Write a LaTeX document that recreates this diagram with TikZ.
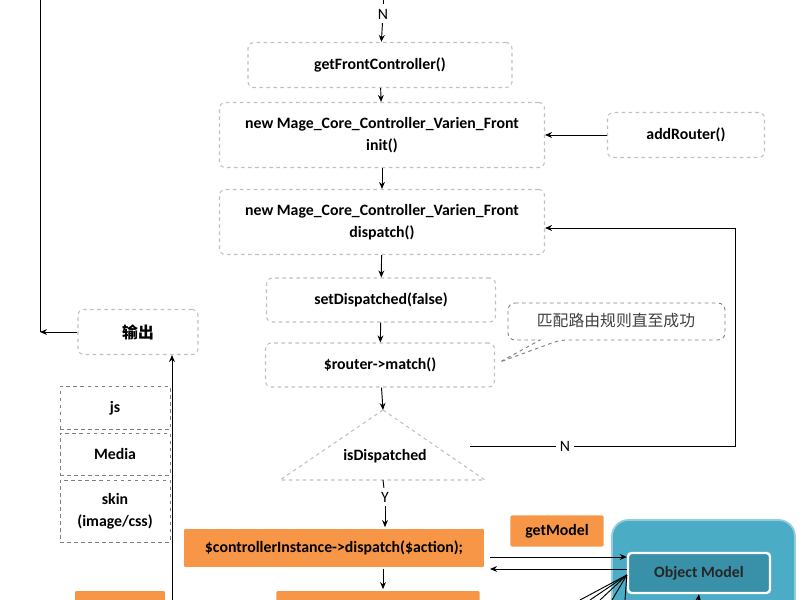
\documentclass[tikz,border=0pt]{standalone}
\usepackage{fontspec}
\setmainfont{Carlito}
\newfontfamily\cjk{Noto Sans CJK SC}
\usetikzlibrary{arrows.meta}
\definecolor{dsh}{RGB}{200,190,180}
\definecolor{org}{RGB}{247,150,70}
\definecolor{blu}{RGB}{75,172,198}
\definecolor{blud}{RGB}{49,133,156}
\newcommand\fz{\fontsize{13.5}{19}\selectfont}
\begin{document}
\begin{tikzpicture}[x=0.03cm,y=-0.03cm,
 box/.style={draw=dsh,dashed,line width=0.9pt,rounded corners=5pt,fill=white,font=\bfseries\fz,align=center,inner sep=0pt},
 gbox/.style={draw=gray,dashed,line width=0.8pt,font=\bfseries\fz,align=center,inner sep=0pt},
 obox/.style={fill=org,draw=white,line width=1.5pt,rounded corners=2pt,font=\bfseries\fz,align=center,inner sep=0pt},
 arr/.style={-{Stealth[length=6pt,width=5pt]},line width=0.8pt},
 ln/.style={line width=0.8pt}]
\useasboundingbox (0,0) rectangle (800,600);
\node[box,minimum width=264*0.03cm,minimum height=45*0.03cm] (gfc) at (380,65) {getFrontController()};
\node[box,minimum width=325*0.03cm,minimum height=65*0.03cm] (init) at (382,135) {new Mage\_Core\_Controller\_Varien\_Front\\init()};
\node[box,minimum width=157*0.03cm,minimum height=45*0.03cm] (ar) at (686,135) {addRouter()};
\node[box,minimum width=325*0.03cm,minimum height=65*0.03cm] (disp) at (382,222) {new Mage\_Core\_Controller\_Varien\_Front\\dispatch()};
\node[box,minimum width=229*0.03cm,minimum height=44*0.03cm] (sd) at (381,300) {setDispatched(false)};
\node[box,minimum width=229*0.03cm,minimum height=44*0.03cm] (rm) at (380,365) {\$router->match()};
\draw[draw=gray,dashed,line width=0.8pt,fill=white,rounded corners=6pt] (508,303) -- (725,303) -- (725,340) -- (560,340) [sharp corners]-- (500,362) -- (540,340) [rounded corners=6pt]-- (508,340) -- cycle;
\node[font=\cjk\fz,text=black!75] (co) at (616,321) {匹配路由规则直至成功};
\draw[draw=dsh,dashed,line width=0.9pt,fill=white] (383,410) -- (485,480) -- (280,480) -- cycle;
\node[font=\bfseries\fz] (isd) at (385,456) {isDispatched};
\coordinate (isdt) at (383,410);
\coordinate (isdb) at (383,480);
\coordinate (isdr) at (470,446);
\node[box,minimum width=120*0.03cm,minimum height=45*0.03cm] (out) at (138,332) {\cjk 输出};
\node[gbox,minimum width=110*0.03cm,minimum height=43*0.03cm] (js) at (115,408) {js};
\node[gbox,minimum width=110*0.03cm,minimum height=42*0.03cm] (med) at (115,454) {Media};
\node[gbox,minimum width=110*0.03cm,minimum height=62*0.03cm] (skin) at (115,511) {skin\\(image/css)};
\node[obox,minimum width=302*0.03cm,minimum height=40*0.03cm] (ci) at (334,548) {\$controllerInstance->dispatch(\$action);};
\node[obox,minimum width=95*0.03cm,minimum height=33*0.03cm] (gm) at (557,531) {getModel};
\draw[fill=blu,draw=blu!60,line width=1.5pt,rounded corners=14pt] (612,520) rectangle (795,640);
\node[fill=blud!70!blu,draw=white,line width=2pt,rounded corners=3pt,minimum width=142*0.03cm,minimum height=40*0.03cm,font=\bfseries\fz,text=black!85] (om) at (699,573) {Object Model};
\node[obox,minimum width=92*0.03cm,minimum height=30*0.03cm] (b1) at (120,605) {};
\node[obox,minimum width=205*0.03cm,minimum height=30*0.03cm] (b2) at (378,605) {};
% connectors
\coordinate (top) at (383,0);
\node[font=\fz] (nl) at (383,14) {N};
\draw[ln] (top) -- (383,4);
\draw[arr] (nl) -- (gfc);
\draw[arr] (gfc) -- (init);
\draw[arr] (ar) -- (init);
\draw[arr] (init) -- (disp);
\draw[arr] (disp) -- (sd);
\draw[arr] (sd) -- (rm);
\draw[arr] (rm) -- (isdt);
\node[font=\fz] (nn) at (565,446) {N};
\draw[ln] (isdr) -- (nn);
\draw[arr] (nn) -- (735,446) -- (735,228) -- (disp.east |- 0,228);
\node[font=\fz] (yl) at (385,497) {Y};
\draw[ln] (isdb) -- (yl);
\draw[arr] (yl) -- (yl |- ci.north);
\draw[arr] (ci.south -| 383,0) -- (b2.north -| 383,0);
\coordinate (ltop) at (40,0);
\draw[ln] (ltop) -- (40,332);
\draw[arr] (out) -- (40,332);
\coordinate (vb) at (172,600);
\draw[arr] (vb) -- (out.south -| 172,0);
\draw[arr] (490,557) -- (om.west |- 0,557);
\draw[arr] (om.west |- 0,569) -- (490,569);
\foreach \xx in {580,590,600,612,625}
  \draw[ln] (om.west |- 0,575) -- (\xx,600);
\draw[arr] (697,610) -- (om.south);
\end{tikzpicture}
\end{document}
